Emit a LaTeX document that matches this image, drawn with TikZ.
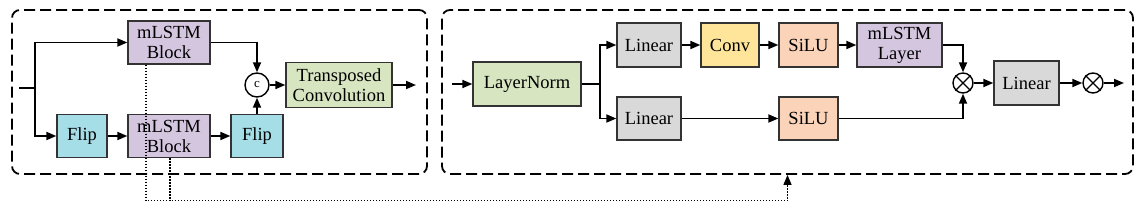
\documentclass[tikz,border=0pt]{standalone}
\usepackage{fontspec}
\setmainfont{Liberation Serif}
\usetikzlibrary{calc,positioning,arrows.meta}
\definecolor{lstmfill}{RGB}{213,198,224}
\definecolor{flipfill}{RGB}{166,222,232}
\definecolor{normfill}{RGB}{215,229,193}
\definecolor{linfill}{RGB}{217,217,217}
\definecolor{convfill}{RGB}{255,229,153}
\definecolor{silufill}{RGB}{250,211,184}
\tikzset{
    block/.style={
        draw=black!80,line width=1.3pt,
        inner sep=0pt,align=center,
        minimum height=43pt,
        font=\fontsize{18.5}{20}\selectfont
    },
    group box/.style={
        draw=black,line width=1.8pt,
        dash pattern=on 11pt off 5pt,
        rounded corners=8pt,
        minimum height=164pt
    },
    op/.style={circle,draw,line width=1.4pt,minimum size=20pt,inner sep=0pt},
    link/.style={line width=1.8pt},
    tap/.style={line width=1.2pt,dash pattern=on 1.4pt off 1.6pt},
    >={Triangle[length=10pt,width=8pt]}
}
\begin{document}
\begin{tikzpicture}[x=1pt,y=-1pt]
\useasboundingbox (0,0) rectangle (1143,208);
% the two dashed groups
\node[group box,minimum width=415pt] (left_group) at (219.5,92) {};
\node[group box,minimum width=691pt] (right_group) at (787.5,92) {};
% left group: bidirectional mLSTM
\node[block,fill=lstmfill,minimum width=82pt] (lstm_fwd) at (169,42.5) {mLSTM\\Block};
\node[block,fill=lstmfill,minimum width=82pt] (lstm_bwd) at (169,136) {mLSTM\\Block};
\node[block,fill=flipfill,minimum width=50pt] (flip_in) at (82,136) {Flip};
\node[block,fill=flipfill,minimum width=52pt] (flip_out) at (257,136) {Flip};
\node[op,minimum size=24pt,font=\fontsize{13}{13}\selectfont] (concat) at (257,85) {c};
\node[block,fill=normfill,minimum width=106pt,minimum height=45pt] (tconv) at (339,85) {Transposed\\Convolution};
\coordinate (in_left) at (19,88);
\coordinate (split_left) at (35,88);
\coordinate (out_left) at (416,85);
\draw[link] (in_left) -- (split_left);
\draw[link,->] (split_left) |- (lstm_fwd.west);
\draw[link,->] (split_left) |- (flip_in.west);
\draw[link,->] (flip_in) -- (lstm_bwd);
\draw[link,->] (lstm_bwd) -- (flip_out);
\draw[link,->] (flip_out) -- (concat);
\draw[link,->] (lstm_fwd) -| (concat);
\draw[link,->] (concat) -- (tconv);
\draw[link,->] (tconv) -- (out_left);
% right group: mLSTM layer block
\node[block,fill=normfill,minimum width=108pt,minimum height=44pt] (lnorm) at (527,84) {LayerNorm};
\node[block,fill=linfill,minimum width=64pt,minimum height=44pt] (lin_a) at (649,45) {Linear};
\node[block,fill=convfill,minimum width=58pt,minimum height=44pt] (conv) at (730,45) {Conv};
\node[block,fill=silufill,minimum width=59pt,minimum height=44pt] (silu_a) at (808.5,45) {SiLU};
\node[block,fill=lstmfill,minimum width=85pt,minimum height=44pt] (lstm_layer) at (899.5,45) {mLSTM\\Layer};
\node[block,fill=linfill,minimum width=64pt] (lin_b) at (649,118.5) {Linear};
\node[block,fill=silufill,minimum width=59pt] (silu_b) at (808.5,118.5) {SiLU};
\node[op] (mul_a) at (963,83) {};
\node[block,fill=linfill,minimum width=65pt,minimum height=44pt] (lin_out) at (1026.5,83) {Linear};
\node[op] (mul_b) at (1093,83) {};
\foreach \n in {mul_a,mul_b}
    \draw[line width=1.3pt] (\n.45) -- (\n.225) (\n.135) -- (\n.315);
\coordinate (in_right) at (452,84);
\coordinate (split_right) at (600,84);
\coordinate (out_right) at (1124,83);
\draw[link,->] (in_right) -- (lnorm);
\draw[link] (lnorm) -- (split_right);
\draw[link,->] (split_right) |- (lin_a.west);
\draw[link,->] (split_right) |- (lin_b.west);
\draw[link,->] (lin_a) -- (conv);
\draw[link,->] (conv) -- (silu_a);
\draw[link,->] (silu_a) -- (lstm_layer);
\draw[link,->] (lin_b) -- (silu_b);
\draw[link,->] (lstm_layer) -| (mul_a);
\draw[link,->] (silu_b) -| (mul_a);
\draw[link,->] (mul_a) -- (lin_out);
\draw[link,->] (lin_out) -- (mul_b);
\draw[link,->] (mul_b) -- (out_right);
% dotted taps from the mLSTM blocks into the right group
\coordinate (tap_turn) at ($(right_group.south)+(0,26)$);
\draw[tap,->] ([xshift=-23pt]lstm_fwd.south) |- (tap_turn) -- (right_group.south);
\draw[tap] ([xshift=1pt]lstm_bwd.south) -- ([xshift=1pt]lstm_bwd.south |- tap_turn);
\end{tikzpicture}
\end{document}
